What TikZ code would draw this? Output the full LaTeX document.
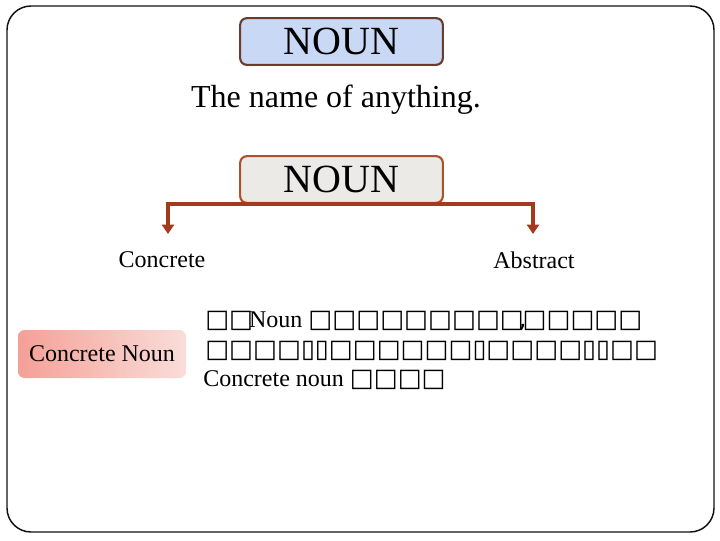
\documentclass[tikz,border=0pt]{standalone}
\usepackage{fontspec}
\setmainfont{Liberation Serif}
\newfontfamily\boxfont{DejaVu Sans}
\usetikzlibrary{arrows.meta}
\definecolor{frameblack}{HTML}{111111}
\definecolor{topfill}{HTML}{C9D9F5}
\definecolor{topdraw}{HTML}{6E3B2B}
\definecolor{midfill}{HTML}{ECEAE7}
\definecolor{middraw}{HTML}{A8532E}
\definecolor{arrowred}{HTML}{A33A1E}
\definecolor{pinkL}{HTML}{F4A097}
\definecolor{pinkR}{HTML}{FADDD9}
\newcommand{\bx}[1]{{\boxfont\fontsize{19}{22}\selectfont #1}}
\tikzset{
  nounbox/.style={rounded corners=5pt, line width=1.6pt, minimum width=152pt, minimum height=35pt, inner sep=0pt, font=\fontsize{30}{30}\selectfont},
  connector/.style={arrowred, line width=2.4pt, -{Triangle[width=9pt,length=7pt]}},
  lbl/.style={font=\fontsize{18}{22}\selectfont, inner sep=0pt},
  body/.style={font=\fontsize{18}{22}\selectfont, inner sep=0pt, anchor=base west},
}
\begin{document}
\begin{tikzpicture}[x=0.75pt,y=-0.75pt]
\useasboundingbox (0,0) rectangle (720,540);
\draw[frameblack, line width=1.1pt, rounded corners=18pt] (7,6) rectangle (714,532);
\node[nounbox, fill=topfill, draw=topdraw] (noun1) at (341.5,41.5) {NOUN};
\node[font=\fontsize{24}{24}\selectfont, inner sep=0pt] (def) at (336,100) {The name of anything.};
\node[nounbox, fill=midfill, draw=middraw] (noun2) at (341.5,179.5) {NOUN};
\node[lbl] (concrete) at (162,260) {Concrete};
\node[lbl] (abstract) at (534,260) {Abstract};
\coordinate (cl) at (168,234);
\coordinate (cr) at (533,234);
\draw[connector] (noun2.south) -| (cl);
\draw[connector] (noun2.south) -| (cr);
\node[lbl, rounded corners=5pt, left color=pinkL, right color=pinkR, minimum width=126pt, minimum height=36pt] (cnoun) at (102,354) {Concrete Noun};
\node[body] (l1) at (205,327) {\bx{□□}\hspace{-3pt}Noun \bx{□□□□□□□□□\hspace{-4pt},\hspace{-3pt}□□□□□}};
\node[body] (l2) at (205,357) {\bx{□□□□▯▯□□□□□□▯□□□□▯▯□□}};
\node[body] (l3) at (203,386) {Concrete noun \bx{□□□□}};
\end{tikzpicture}
\end{document}
